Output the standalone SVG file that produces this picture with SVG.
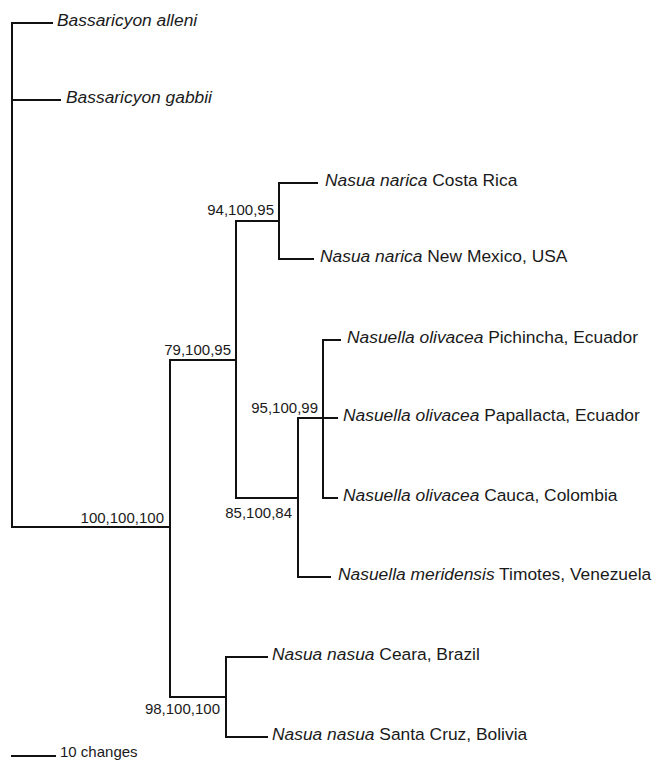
<svg xmlns="http://www.w3.org/2000/svg" width="657" height="762" viewBox="0 0 657 762">
<style>
.br{fill:none;stroke:#111;stroke-width:2;stroke-linecap:square}
.tx{font-family:"Liberation Sans",Arial,sans-serif;font-size:17.4px;fill:#1a1a1a}
.sp{font-style:italic}
.nl{font-family:"Liberation Sans",Arial,sans-serif;font-size:15px;fill:#1a1a1a;text-anchor:end}
.sc{font-family:"Liberation Sans",Arial,sans-serif;font-size:15px;fill:#1a1a1a}
</style>
<rect width="657" height="762" fill="#fff"/>
<g id="connectors" class="br">
<path d="M12 23V527"/>
<path d="M12 23H52"/>
<path d="M12 100H60"/>
<path d="M12 527H170"/>
<path d="M170 360V697"/>
<path d="M170 360H236"/>
<path d="M236 221V498"/>
<path d="M236 221H279"/>
<path d="M279 183V259"/>
<path d="M279 183H317"/>
<path d="M279 259H313"/>
<path d="M236 498H298"/>
<path d="M298 418V577"/>
<path d="M298 418H323"/>
<path d="M323 340V498"/>
<path d="M323 340H340"/>
<path d="M323 418H337"/>
<path d="M323 498H337"/>
<path d="M298 577H330"/>
<path d="M170 697H226"/>
<path d="M226 657V737"/>
<path d="M226 657H267"/>
<path d="M226 737H267"/>
</g>
<g id="tip-b-alleni"><text class="tx" x="57" y="26"><tspan class="sp">Bassaricyon alleni</tspan></text></g>
<g id="tip-b-gabbii"><text class="tx" x="66" y="103"><tspan class="sp">Bassaricyon gabbii</tspan></text></g>
<g id="tip-narica-cr"><text class="tx" x="325" y="186"><tspan class="sp">Nasua narica</tspan> Costa Rica</text></g>
<g id="tip-narica-nm"><text class="tx" x="320" y="262"><tspan class="sp">Nasua narica</tspan> New Mexico, USA</text></g>
<g id="tip-olivacea-pi"><text class="tx" x="347" y="343"><tspan class="sp">Nasuella olivacea</tspan> Pichincha, Ecuador</text></g>
<g id="tip-olivacea-pa"><text class="tx" x="343" y="421"><tspan class="sp">Nasuella olivacea</tspan> Papallacta, Ecuador</text></g>
<g id="tip-olivacea-ca"><text class="tx" x="343" y="501"><tspan class="sp">Nasuella olivacea</tspan> Cauca, Colombia</text></g>
<g id="tip-meridensis"><text class="tx" x="338" y="580"><tspan class="sp">Nasuella meridensis</tspan> Timotes, Venezuela</text></g>
<g id="tip-nasua-ce"><text class="tx" x="272" y="660"><tspan class="sp">Nasua nasua</tspan> Ceara, Brazil</text></g>
<g id="tip-nasua-sc"><text class="tx" x="272" y="740"><tspan class="sp">Nasua nasua</tspan> Santa Cruz, Bolivia</text></g>
<g id="node-100"><text class="nl" x="164" y="523">100,100,100</text></g>
<g id="node-79"><text class="nl" x="231" y="355">79,100,95</text></g>
<g id="node-94"><text class="nl" x="274" y="215">94,100,95</text></g>
<g id="node-95"><text class="nl" x="318" y="413">95,100,99</text></g>
<g id="node-85"><text class="nl" x="292" y="518">85,100,84</text></g>
<g id="node-98"><text class="nl" x="220" y="714">98,100,100</text></g>
<g id="scale-bar">
<path class="br" d="M12 756H55"/>
<text class="sc" x="60" y="757">10 changes</text>
</g>
</svg>
